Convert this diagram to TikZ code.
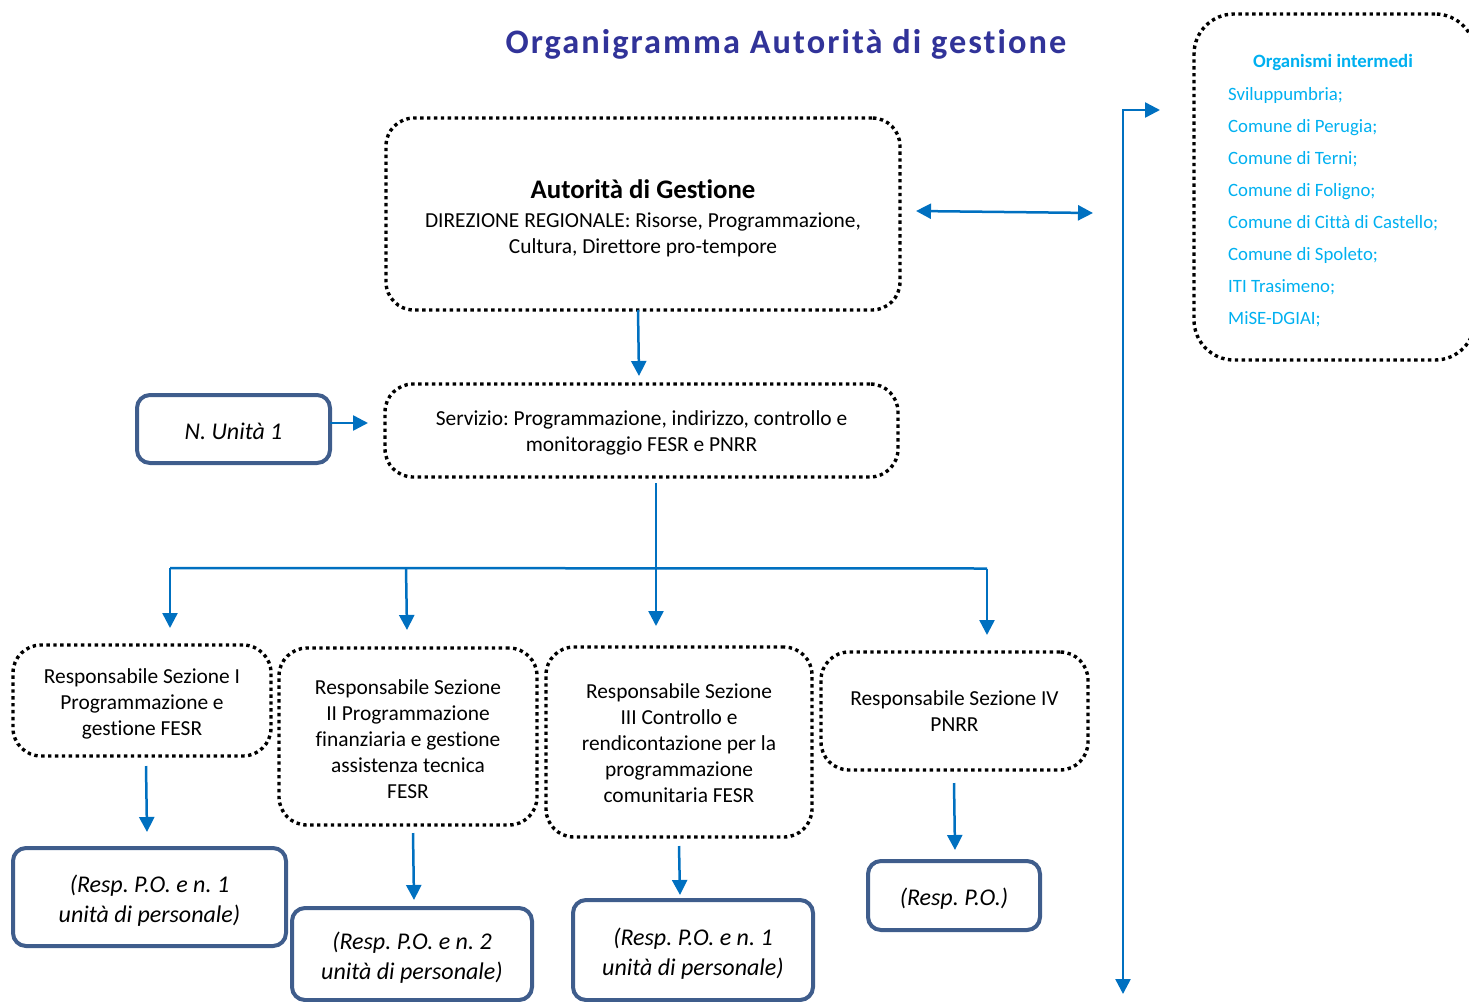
\documentclass[tikz,border=0pt]{standalone}
\usepackage{fontspec}
\setmainfont{Carlito}[Ligatures={NoCommon}]
\newfontfamily\titlefont[LetterSpace=6,Ligatures={NoCommon}]{Carlito}
\usetikzlibrary{arrows.meta,calc}
\definecolor{arrblue}{RGB}{0,112,192}
\definecolor{boxblue}{RGB}{63,93,140}
\definecolor{oicyan}{RGB}{0,176,240}
\definecolor{titleblue}{RGB}{49,51,153}
\newcommand{\topgap}[1]{\rule{0pt}{#1}}
\tikzset{
  dotbox/.style={draw=black, line width=3.4pt, dash pattern=on 3.4pt off 3.5pt, rounded corners=28pt, align=center, inner sep=0pt, font=\fontsize{21.4}{26}\selectfont},
  solidbox/.style={draw=boxblue, line width=4pt, rounded corners=13pt, align=center, inner sep=0pt, font=\fontsize{24}{30}\selectfont\itshape},
  arr/.style={draw=arrblue, line width=2.5pt, -{Triangle[width=15pt,length=15pt]}},
  arrboth/.style={draw=arrblue, line width=2.5pt, {Triangle[width=15pt,length=15pt]}-{Triangle[width=15pt,length=15pt]}},
  plain/.style={draw=arrblue, line width=2.5pt},
  oitext/.style={text=oicyan, inner sep=0pt, font=\fontsize{18.8}{22}\selectfont},
}
\begin{document}
\frenchspacing
\begin{tikzpicture}[x=1pt,y=-1pt]
\useasboundingbox (0,0) rectangle (1469,1001);

% title
\node[text=titleblue, font=\titlefont\fontsize{34.3}{40}\selectfont\bfseries] (title) at (786,44) {Organigramma Autorità di gestione};

% main boxes
\node[dotbox, minimum width=514pt, minimum height=192pt] (adg) at (643,214)
  {{\fontsize{26.8}{30}\selectfont\bfseries \topgap{28pt}Autorità di Gestione}\\[3pt]
   DIREZIONE REGIONALE: Risorse, Programmazione,\\Cultura, Direttore pro-tempore};
\node[dotbox, minimum width=513pt, minimum height=93pt] (serv) at (641.5,430.5)
  {\topgap{20pt}Servizio: Programmazione, indirizzo, controllo e\\monitoraggio FESR e PNRR};
\node[solidbox, minimum width=193pt, minimum height=68pt] (unit) at (233.5,429) {\topgap{21pt}N. Unità 1};

% organismi intermedi
\node[draw=black, line width=3.4pt, dash pattern=on 3.4pt off 3.5pt, rounded corners=40pt, minimum width=281pt, minimum height=346pt, inner sep=0pt] (org) at (1334.5,187) {};
\node[oitext, font=\fontsize{18.8}{22}\selectfont\bfseries] (orgtitle) at (1333,62.5) {Organismi intermedi};
\foreach \t [count=\i] in {Sviluppumbria;,Comune di Perugia;,Comune di Terni;,Comune di Foligno;,Comune di Città di Castello;,Comune di Spoleto;,ITI Trasimeno;,MiSE-DGIAI;}
  \node[oitext, anchor=base west] (oi\i) at (1228,{100+32*(\i-1)}) {\t};

% sections
\node[dotbox, minimum width=258pt, minimum height=111pt] (s1) at (142,700.5)
  {\topgap{22pt}Responsabile Sezione I\\Programmazione e\\gestione FESR};
\node[dotbox, minimum width=258pt, minimum height=177pt] (s2) at (408,736.5)
  {\topgap{20pt}Responsabile Sezione\\II Programmazione\\finanziaria e gestione\\assistenza tecnica\\FESR};
\node[dotbox, minimum width=266pt, minimum height=190pt] (s3) at (679,742)
  {\topgap{18pt}Responsabile Sezione\\III Controllo e\\rendicontazione per la\\programmazione\\comunitaria FESR};
\node[dotbox, minimum width=267pt, minimum height=118pt] (s4) at (954.5,711)
  {Responsabile Sezione IV\\PNRR};

% P.O. boxes
\node[solidbox, minimum width=273pt, minimum height=98pt] (p1) at (149.5,897) {\topgap{25pt}(Resp. P.O. e n. 1\\unità di personale)};
\node[solidbox, minimum width=240pt, minimum height=92pt] (p2) at (412,954) {\topgap{25pt}(Resp. P.O. e n. 2\\unità di personale)};
\node[solidbox, minimum width=240pt, minimum height=100pt] (p3) at (693,950) {\topgap{25pt}(Resp. P.O. e n. 1\\unità di personale)};
\node[solidbox, minimum width=172pt, minimum height=69pt] (p4) at (954,895.5) {\topgap{23pt}(Resp. P.O.)};

% coordinates
\coordinate (adgout) at (638,310);
\coordinate (servin) at (639,376);
\coordinate (unitout) at (330,423);
\coordinate (servleft) at (368,423);
\coordinate (servout) at (656,483);
\coordinate (busL) at (170,568);
\coordinate (bus2) at (406,568);
\coordinate (busR) at (987,568.5);
\coordinate (t1) at (170,628);
\coordinate (t2) at (407,630);
\coordinate (t3) at (656,626);
\coordinate (t4) at (987,635);
\coordinate (adgright) at (916,211);
\coordinate (oileft) at (1093,213);
\coordinate (vtop) at (1123,110);
\coordinate (vbottom) at (1123,994);
\coordinate (vright) at (1160,110);
\coordinate (s1out) at (146,766);  \coordinate (p1in) at (147,832);
\coordinate (s2out) at (413,833);  \coordinate (p2in) at (414,900);
\coordinate (s3out) at (679,846);  \coordinate (p3in) at (680,895);
\coordinate (s4out) at (954,783);  \coordinate (p4in) at (955,850);

% connectors
\draw[arr] (adgout) -- (servin);
\draw[arr] (unitout) -- (servleft);
\draw[arr] (servout) -- (t3);
\draw[plain] (busL) -- (busR);
\draw[arr] (busL) -- (t1);
\draw[arr] (bus2) -- (t2);
\draw[arr] (busR) -- (t4);
\draw[arrboth] (adgright) -- (oileft);
\draw[arrboth] (vbottom) -- (vtop) -- (vright);
\draw[arr] (s1out) -- (p1in);
\draw[arr] (s2out) -- (p2in);
\draw[arr] (s3out) -- (p3in);
\draw[arr] (s4out) -- (p4in);
\end{tikzpicture}
\end{document}
